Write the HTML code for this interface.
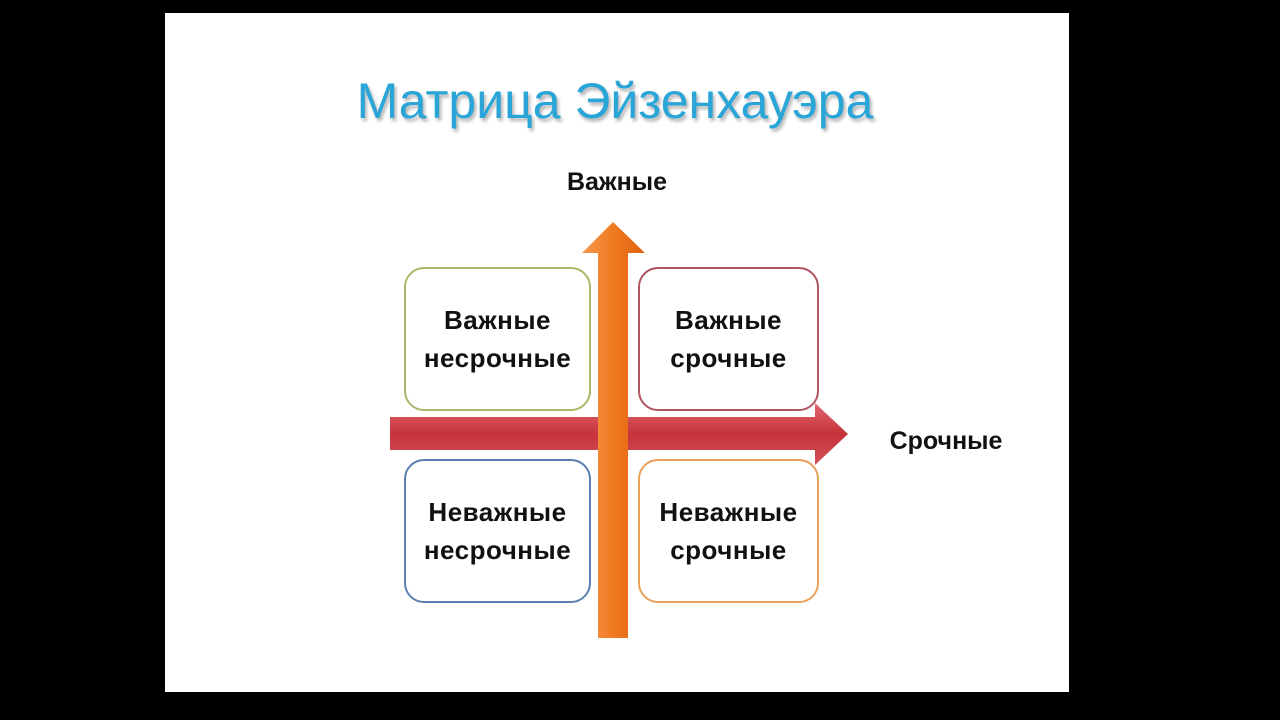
<!DOCTYPE html>
<html><head><meta charset="utf-8"><style>
body{margin:0;width:1280px;height:720px;background:#000;position:relative;overflow:hidden;font-family:"Liberation Sans","DejaVu Sans",sans-serif}
.slide{position:absolute;left:165px;top:13px;width:904px;height:679px;background:#fff}
.t{position:absolute;white-space:nowrap;text-align:center;font-weight:bold;color:#111}
.box{position:absolute;border:2px solid;border-radius:20px;background:#fff;display:flex;align-items:center;justify-content:center;text-align:center;font-weight:bold;font-size:26px;line-height:38px;color:#111;box-sizing:border-box;letter-spacing:0.5px}
</style></head><body>
<div class="slide"></div>
<div class="t" style="left:300px;top:72px;width:630px;font-size:50px;font-weight:normal;color:#2aa5d8;text-shadow:2px 3px 3px rgba(0,0,0,0.3)">Матрица Эйзенхауэра</div>
<div class="t" style="left:517px;top:168px;width:200px;font-size:25px">Важные</div>
<div class="t" style="left:866px;top:427px;width:160px;font-size:25px">Срочные</div>
<div class="box" style="left:404px;top:267px;width:187px;height:144px;border-color:#a6bb6a">Важные<br>несрочные</div>
<div class="box" style="left:638px;top:267px;width:181px;height:144px;border-color:#b05560">Важные<br>срочные</div>
<div class="box" style="left:404px;top:459px;width:187px;height:144px;border-color:#5b80b0">Неважные<br>несрочные</div>
<div class="box" style="left:638px;top:459px;width:181px;height:144px;border-color:#eaa05a">Неважные<br>срочные</div>
<svg width="1280" height="720" style="position:absolute;left:0;top:0">
<defs>
<linearGradient id="o" x1="0" x2="1" y1="0" y2="0"><stop offset="0" stop-color="#f59a50"/><stop offset="0.5" stop-color="#f07a20"/><stop offset="1" stop-color="#e06010"/></linearGradient>
<linearGradient id="r" x1="0" x2="0" y1="0" y2="1"><stop offset="0" stop-color="#e06068"/><stop offset="0.5" stop-color="#c42830"/><stop offset="1" stop-color="#d04850"/></linearGradient>
</defs>
<polygon points="390,417 815,417 815,403 848,434 815,465 815,450 390,450" fill="url(#r)" opacity="0.95"/>
<polygon points="598,638 628,638 628,253 645,253 613,222 582,253 598,253" fill="url(#o)"/>
</svg>
</body></html>
